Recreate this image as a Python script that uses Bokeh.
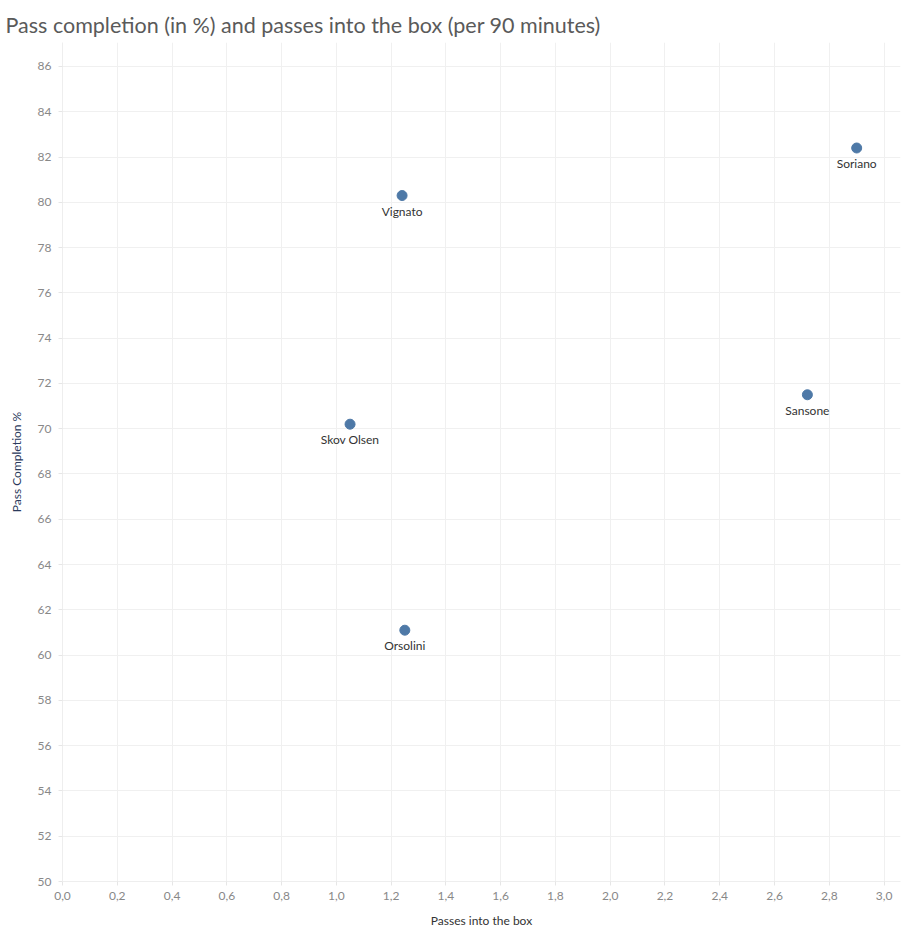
from bokeh.plotting import figure
from bokeh.models import ColumnDataSource, FixedTicker, CustomJSTickFormatter, Range1d, LabelSet
from bokeh.core.properties import value
from bokeh.embed import file_html
from bokeh.resources import INLINE

players = ["Soriano", "Vignato", "Sansone", "Skov Olsen", "Orsolini"]
passes_into_box = [2.90, 1.24, 2.72, 1.05, 1.25]
pass_completion = [82.4, 80.3, 71.5, 70.2, 61.1]

x_ticks = [round(i * 0.2, 1) for i in range(16)]
y_ticks = list(range(50, 88, 2))

src = ColumnDataSource(dict(x=passes_into_box, y=pass_completion, name=players))

FONT = "Lato"
p = figure(width=903, height=929, frame_width=838, frame_height=839,
           output_backend="svg", toolbar_location=None,
           x_range=Range1d(0, 3.06), y_range=Range1d(50, 87.06),
           min_border_left=62, min_border_right=3, min_border_top=42, min_border_bottom=48)

p.title.text = "Pass completion (in %) and passes into the box (per 90 minutes)"
p.title.text_font = FONT
p.title.text_font_style = "normal"
p.title.text_font_size = "21.5px"
p.title.text_color = "#5a5a5a"
p.title.offset = -57

p.outline_line_color = None
p.background_fill_color = "white"
p.border_fill_color = "white"

for ax in (p.xaxis[0], p.yaxis[0]):
    ax.axis_line_color = "#eeeeee"
    ax.major_tick_line_color = "#e6e6e6"
    ax.major_tick_in = 0
    ax.major_tick_out = 4
    ax.minor_tick_line_color = None
    ax.major_label_text_font = FONT
    ax.major_label_text_font_size = "12px"
    ax.major_label_text_color = "#888888"
    ax.axis_label_text_font = FONT
    ax.axis_label_text_font_size = "12px"
    ax.axis_label_text_font_style = "normal"
    ax.axis_label_text_color = "#333333"

p.xaxis.ticker = FixedTicker(ticks=x_ticks)
p.yaxis.ticker = FixedTicker(ticks=y_ticks)
p.xaxis.formatter = CustomJSTickFormatter(code="return tick.toFixed(1).replace('.', ',');")
p.yaxis.formatter = CustomJSTickFormatter(code="return tick.toFixed(0);")
p.xaxis.axis_label = "Passes into the box"
p.yaxis.axis_label = "Pass Completion %"
p.yaxis.axis_label_text_color = "#2b3a5c"
p.xaxis.major_label_standoff = 6
p.xaxis.axis_label_standoff = 10
p.yaxis.major_label_standoff = 7
p.yaxis.axis_label_standoff = 11

p.xgrid.grid_line_color = "#f0f0f0"
p.ygrid.grid_line_color = "#f0f0f0"
p.xgrid.ticker = FixedTicker(ticks=x_ticks)
p.ygrid.ticker = FixedTicker(ticks=y_ticks)

p.scatter("x", "y", source=src, size=10, fill_color="#4e79a7", line_color="#4e79a7")

labels = LabelSet(x="x", y="y", text="name", source=src, text_align="center",
                  text_baseline="top", y_offset=-8, text_font=value(FONT),
                  text_font_size=value("12px"), text_color="#333333")
p.add_layout(labels)

open("out.html", "w").write(file_html(p, INLINE))
